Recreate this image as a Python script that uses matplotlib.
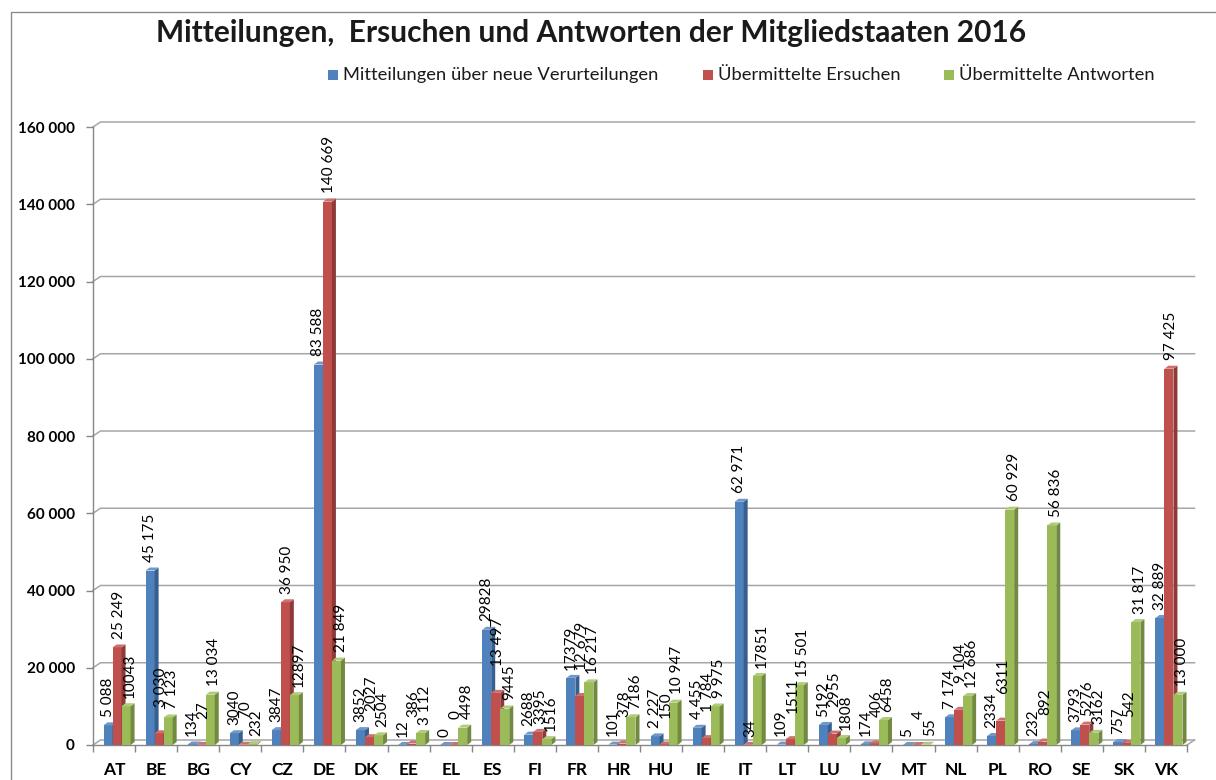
import matplotlib
matplotlib.use('Agg')
import matplotlib.pyplot as plt
import matplotlib.transforms as mtransforms
from matplotlib.patches import Polygon, Rectangle
from matplotlib.lines import Line2D
import numpy as np

plt.rcParams['font.family'] = ['Lato', 'DejaVu Sans']

title = "Mitteilungen,  Ersuchen und Antworten der Mitgliedstaaten 2016"
categories = ["AT", "BE", "BG", "CY", "CZ", "DE", "DK", "EE", "EL", "ES", "FI", "FR", "HR",
              "HU", "IE", "IT", "LT", "LU", "LV", "MT", "NL", "PL", "RO", "SE", "SK", "VK"]
series_names = ["Mitteilungen über neue Verurteilungen", "Übermittelte Ersuchen",
                "Übermittelte Antworten"]

# bar heights as drawn in the picture
mitteilungen = [5088, 45175, 134, 3040, 3847, 98500, 3852, 12, 0, 29828, 2688, 17379, 101,
                2227, 4455, 62971, 109, 5192, 174, 5, 7174, 2334, 232, 3793, 757, 32889]
ersuchen = [25249, 3030, 27, 70, 36950, 140669, 2027, 386, 0, 13497, 3395, 12679, 378,
            150, 1784, 34, 1511, 2955, 406, 4, 9104, 6311, 892, 5276, 542, 97425]
antworten = [10043, 7123, 13034, 232, 12897, 21849, 2504, 3112, 4498, 9445, 1516, 16217, 7186,
             10947, 9975, 17851, 15501, 1808, 6458, 55, 12686, 60929, 56836, 3162, 31817, 13000]

# data labels as printed in the picture
mitteilungen_labels = ["5 088", "45 175", "134", "3040", "3847", "83 588", "3852", "12", "0",
                       "29828", "2688", "17379", "101", "2 227", "4 455", "62 971", "109",
                       "5192", "174", "5", "7 174", "2334", "232", "3793", "757", "32 889"]
ersuchen_labels = ["25 249", "3 030", "27", "70", "36 950", "140 669", "2027", "386", "0",
                   "13 497", "3395", "12 679", "378", "150", "1 784", "34", "1511", "2955",
                   "406", "4", "9 104", "6311", "892", "5276", "542", "97 425"]
antworten_labels = ["10043", "7 123", "13 034", "232", "12897", "21 849", "2504", "3 112",
                    "4498", "9445", "1516", "16 217", "7186", "10 947", "9 975", "17851",
                    "15 501", "1808", "6458", "55", "12 686", "60 929", "56 836", "3162",
                    "31 817", "13 000"]

y_ticks = [0, 20000, 40000, 60000, 80000, 100000, 120000, 140000, 160000]
y_tick_labels = ["0", "20 000", "40 000", "60 000", "80 000", "100 000", "120 000",
                 "140 000", "160 000"]

front_colors = ["#4F81BD", "#C0504D", "#9BBB59"]
side_colors = ["#38608F", "#8E3A38", "#728A40"]
top_colors = ["#6F97C9", "#CE716E", "#B0CB7A"]

W, H = 1216, 780
fig = plt.figure(figsize=(W / 100, H / 100), dpi=100)
fig.patch.set_facecolor('white')

FX0, FX1, FY0, FY1 = 93, 1187, 745, 127  # front frame in image pixels
DX, DY = 7.5, 5  # depth offset of back wall (pixels)

ax = fig.add_axes([FX0 / W, 1 - FY0 / H, (FX1 - FX0) / W, (FY0 - FY1) / H])
ax.set_xlim(-0.5, len(categories) - 0.5)
ax.set_ylim(0, 160000)
ax.patch.set_alpha(0)
for s in ["top", "right"]:
    ax.spines[s].set_visible(False)
for s in ["left", "bottom"]:
    ax.spines[s].set_color("#868686")
    ax.spines[s].set_linewidth(1.0)

ax.set_yticks(y_ticks)
ax.set_yticklabels(y_tick_labels, fontweight='bold', fontsize=11)
ax.tick_params(axis='y', direction='out', length=5, width=1.0, color='#868686', pad=8)

x = np.arange(len(categories))
ax.set_xticks(x)
ax.set_xticklabels(categories, fontweight='bold', fontsize=12.5)
ax.set_xticks(np.arange(len(categories) + 1) - 0.5, minor=True)
ax.tick_params(axis='x', which='major', length=0, pad=12)
ax.tick_params(axis='x', which='minor', direction='out', length=5, width=1.0, color='#868686')

ident = mtransforms.IdentityTransform()

# back wall gridlines with slanted connectors to the front axis
ytr = ax.get_yaxis_transform()
for v in y_ticks:
    p0 = ytr.transform((0, v))
    p1 = ytr.transform((1, v))
    ax.add_line(Line2D([p0[0], p0[0] + DX, p1[0] + DX], [p0[1], p0[1] + DY, p1[1] + DY],
                       transform=ident, color='#A6A6A6', lw=1.1, clip_on=False, zorder=1))
p1 = ytr.transform((1, 0))
ax.add_line(Line2D([p1[0], p1[0] + DX], [p1[1], p1[1] + DY], transform=ident,
                   color='#A6A6A6', lw=1.1, clip_on=False, zorder=1))

series = [mitteilungen, ersuchen, antworten]
labels = [mitteilungen_labels, ersuchen_labels, antworten_labels]
offsets = [-0.143, 0.071, 0.286]
width = 0.214
bdx, bdy = 4, 3
label_dx = [0.0, 1.5, 3.0]  # points
base_gap = 6  # points
raise_gap = 13  # points, extra lift for crowded middle labels
renderer = fig.canvas.get_renderer()

texts = [[None] * len(categories) for _ in range(3)]
for k, (vals, labs) in enumerate(zip(series, labels)):
    z = 3 + k
    ax.bar(x + offsets[k], vals, width=width, color=front_colors[k], zorder=z, linewidth=0)
    for i, v in enumerate(vals):
        xl = x[i] + offsets[k] - width / 2
        xr = x[i] + offsets[k] + width / 2
        (ax0, ay0), (ax1, ay1) = ax.transData.transform([(xl, 0), (xr, v)])
        side = Polygon([(ax1, ay0), (ax1 + bdx, ay0 + bdy), (ax1 + bdx, ay1 + bdy), (ax1, ay1)],
                       closed=True, transform=ident, facecolor=side_colors[k],
                       edgecolor='none', zorder=z + 0.5, clip_on=False)
        top = Polygon([(ax0, ay1), (ax0 + bdx, ay1 + bdy), (ax1 + bdx, ay1 + bdy), (ax1, ay1)],
                      closed=True, transform=ident, facecolor=top_colors[k],
                      edgecolor='none', zorder=z + 0.5, clip_on=False)
        ax.add_patch(side)
        ax.add_patch(top)
        t = ax.annotate(labs[i], (x[i] + offsets[k], v), xytext=(label_dx[k], base_gap),
                        textcoords='offset points', rotation=90, ha='center', va='bottom',
                        fontsize=11, color='black', zorder=10, annotation_clip=False)
        texts[k][i] = t

# lift the middle label of a cluster when it collides with a neighbour label
for i in range(len(categories)):
    ext = [texts[k][i].get_window_extent(renderer) for k in range(3)]
    mid = ext[1]
    collide = any(not (mid.y1 < e.y0 or mid.y0 > e.y1) for e in (ext[0], ext[2]))
    if collide and ersuchen[i] <= max(mitteilungen[i], antworten[i]):
        texts[1][i].xyann = (label_dx[1], base_gap + raise_gap)

# title
fig.text(591 / W, 1 - 33 / H, title, ha='center', va='center', fontsize=21.5,
         fontweight='bold', color='#1a1a1a')

# legend
leg_x = [328, 703, 944]
for k in range(3):
    fig.patches.append(Rectangle((leg_x[k] / W, 1 - 80 / H), 10 / W, 10 / H,
                                 transform=fig.transFigure, facecolor=front_colors[k],
                                 edgecolor='none'))
    fig.text((leg_x[k] + 15) / W, 1 - 75 / H, series_names[k], ha='left', va='center',
             fontsize=13.2, color='#1a1a1a')

# outer frame
fig.add_artist(Line2D([11 / W, 11 / W, 1.0], [0.0, 1 - 12 / H, 1 - 12 / H],
                      transform=fig.transFigure, color='#8C8C8C', lw=1.0))

fig.savefig('out.png', dpi=100)
